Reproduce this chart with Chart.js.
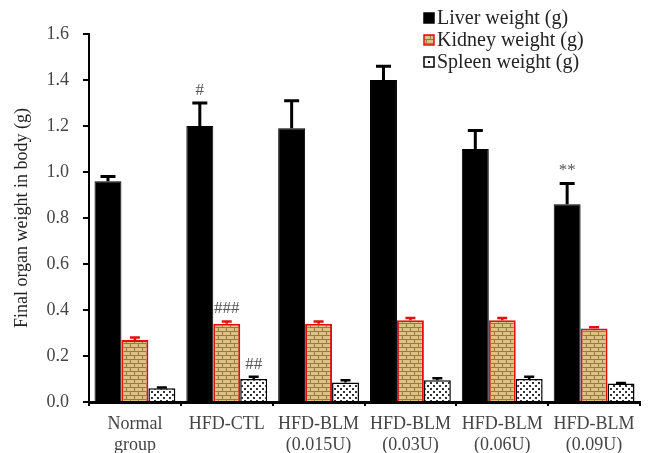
<!DOCTYPE html>
<html>
<head>
<meta charset="utf-8">
<script src="https://cdn.jsdelivr.net/npm/chart.js@4"></script>
<style>
  html, body { margin:0; padding:0; background:#fff; }
  #wrap { width:648px; height:453px; }
</style>
</head>
<body>
<div id="wrap"><canvas id="chart" width="648" height="453"></canvas></div>
<script>
// data
const groups = [['Normal','group'], 'HFD-CTL', ['HFD-BLM','(0.015U)'], ['HFD-BLM','(0.03U)'], ['HFD-BLM','(0.06U)'], ['HFD-BLM','(0.09U)']];
const seriesNames = ['Liver weight (g)', 'Kidney weight (g)', 'Spleen weight (g)'];
const liver     = [0.96, 1.20, 1.19, 1.40, 1.10, 0.86];
const liverErr  = [0.02, 0.10, 0.12, 0.06, 0.08, 0.09];
const kidney    = [0.27, 0.34, 0.34, 0.355, 0.355, 0.32];
const kidneyErr = [0.01, 0.01, 0.01, 0.01, 0.01, 0.005];
const spleen    = [0.06, 0.10, 0.085, 0.095, 0.10, 0.08];
const spleenErr = [0.003, 0.01, 0.01, 0.008, 0.01, 0.003];
const yTicks    = [0, 0.2, 0.4, 0.6, 0.8, 1.0, 1.2, 1.4, 1.6];
// significance marks: [dataset index, group index, text]
const marks = [[0, 1, '#'], [1, 1, '###'], [2, 1, '##'], [0, 5, '**']];

const SERIF = '"Liberation Serif", "Times New Roman", serif';

function makePattern(draw, w, h){
  const c = document.createElement('canvas');
  c.width = w; c.height = h;
  draw(c.getContext('2d'));
  return c.getContext('2d').createPattern(c, 'repeat');
}
// brick-ish tan pattern for kidney
const kidneyFill = makePattern(g=>{
  g.fillStyle = '#dcc284'; g.fillRect(0,0,8,8);
  g.fillStyle = '#9a7a40';
  g.fillRect(0,3,8,1); g.fillRect(0,7,8,1);
  g.fillRect(2,0,1,3); g.fillRect(6,4,1,3);
  g.fillStyle = '#cfcb86'; g.fillRect(4,1,2,1); g.fillRect(0,5,2,1);
}, 8, 8);
// dotted pattern for spleen
const spleenFill = makePattern(g=>{
  g.fillStyle = '#ffffff'; g.fillRect(0,0,6,6);
  g.fillStyle = '#333';
  g.fillRect(1,1,2,2); g.fillRect(4,4,2,2);
}, 6, 6);

const errs = [liverErr, kidneyErr, spleenErr];
const errColors = ['#000', '#e01010', '#000'];

const errorBars = {
  id: 'errorBars',
  afterDatasetsDraw(chart){
    const {ctx} = chart;
    const y = chart.scales.y;
    chart.data.datasets.forEach((ds, di)=>{
      const meta = chart.getDatasetMeta(di);
      meta.data.forEach((bar, i)=>{
        const top = y.getPixelForValue(ds.data[i] + errs[di][i]);
        ctx.save();
        ctx.strokeStyle = errColors[di];
        ctx.lineWidth = di === 0 ? 3 : 2.5;
        ctx.beginPath();
        ctx.moveTo(bar.x, bar.y);
        ctx.lineTo(bar.x, top);
        const half = di === 0 ? 7.5 : 5;
        ctx.moveTo(bar.x - half, top);
        ctx.lineTo(bar.x + half, top);
        ctx.stroke();
        ctx.restore();
      });
    });
    // significance marks
    ctx.save();
    ctx.fillStyle = '#555';
    ctx.font = '17px ' + SERIF;
    ctx.textAlign = 'center';
    ctx.textBaseline = 'bottom';
    marks.forEach(([di, i, t])=>{
      const bar = chart.getDatasetMeta(di).data[i];
      const ds = chart.data.datasets[di];
      const top = y.getPixelForValue(ds.data[i] + errs[di][i]);
      ctx.fillText(t, bar.x, top - 4);
    });
    ctx.restore();
  }
};

const legendBox = {
  id: 'legendBox',
  afterDraw(chart){
    const {ctx} = chart;
    const x0 = 424, ys = [18, 40, 62];
    const fills = ['#000', kidneyFill, '#fff'];
    const borders = ['#000', '#e01010', '#000'];
    ctx.save();
    seriesNames.forEach((name, k)=>{
      ctx.fillStyle = fills[k];
      ctx.fillRect(x0, ys[k]-5, 10, 10);
      ctx.strokeStyle = borders[k];
      ctx.lineWidth = 1.5;
      ctx.strokeRect(x0, ys[k]-5, 10, 10);
      if (k === 2){ ctx.fillStyle = '#000'; ctx.fillRect(x0+4, ys[k]-1, 2, 2); }
      ctx.fillStyle = '#222';
      ctx.font = '20px ' + SERIF;
      ctx.textAlign = 'left';
      ctx.textBaseline = 'middle';
      ctx.fillText(name, x0 + 13, ys[k] + 1);
    });
    ctx.restore();
  }
};

new Chart(document.getElementById('chart'), {
  type: 'bar',
  data: {
    labels: groups,
    datasets: [
      {label: seriesNames[0], data: liver, backgroundColor:'#000', borderColor:'#000', borderWidth:1},
      {label: seriesNames[1], data: kidney, backgroundColor: kidneyFill, borderColor:'#e01010', borderWidth:2},
      {label: seriesNames[2], data: spleen, backgroundColor: spleenFill, borderColor:'#000', borderWidth:1.5}
    ]
  },
  options: {
    responsive: false,
    animation: false,
    events: [],
    layout: { padding: {top:34, right:8, left:0, bottom:0} },
    datasets: { bar: { categoryPercentage: 0.88, barPercentage: 1.0 } },
    plugins: { legend: {display:false}, tooltip: {enabled:false} },
    scales: {
      x: {
        grid: { drawOnChartArea:false, drawTicks:true, tickLength:4, color:'#000', lineWidth:2, offset:true },
        border: { color:'#000', width:3 },
        ticks: { color:'#444', font:{family:SERIF, size:18, lineHeight:1.2}, padding:7, maxRotation:0, autoSkip:false },
        afterFit(s){ s.height = 51; }
      },
      y: {
        min: 0, max: 1.6,
        afterBuildTicks(s){ s.ticks = yTicks.map(v=>({value:v})); },
        grid: { drawOnChartArea:false, drawTicks:true, tickLength:6, color:'#000', lineWidth:2 },
        border: { color:'#000', width:2 },
        ticks: { color:'#444', font:{family:SERIF, size:18}, padding:14, callback:(v)=>Number(v).toFixed(1) },
        title: { display:true, text:'Final organ weight in body (g)', color:'#222', font:{family:SERIF, size:18}, padding:{top:11, bottom:0} },
        afterFit(s){ s.width = 89; }
      }
    }
  },
  plugins: [errorBars, legendBox]
});
</script>
</body>
</html>
